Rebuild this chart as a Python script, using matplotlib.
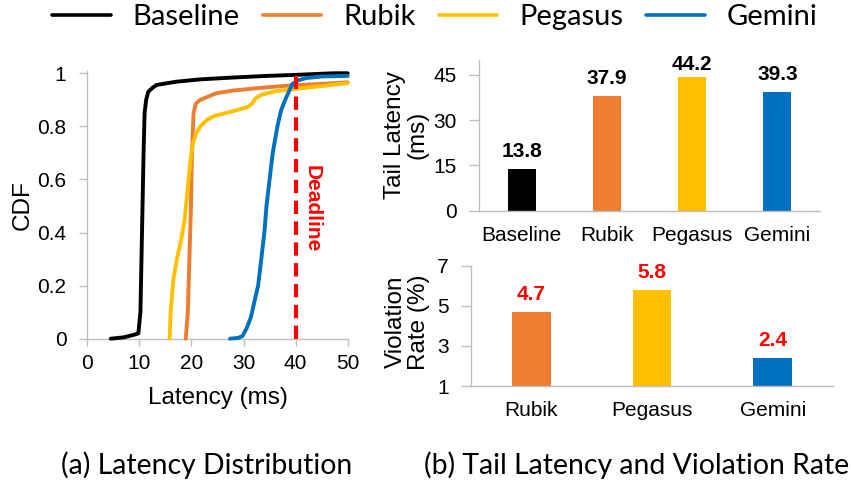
import numpy as np
import matplotlib
matplotlib.use("Agg")
import matplotlib.pyplot as plt
from matplotlib.lines import Line2D

# ---------------- data ----------------
systems = ["Baseline", "Rubik", "Pegasus", "Gemini"]
colors = ["#000000", "#ED7D31", "#FFC000", "#0070C0"]

# CDF curves (latency ms, cumulative fraction)
base_x = [4.5, 7, 9, 9.8, 10.2, 10.4, 10.6, 10.8, 11.0, 11.3, 11.7, 12.5, 13.3, 17, 21.6, 28, 34.4, 40, 47.2, 50]
base_y = [0, 0.005, 0.015, 0.02, 0.1, 0.3, 0.5, 0.7, 0.85, 0.9, 0.93, 0.945, 0.956, 0.968, 0.977, 0.984, 0.99, 0.994, 1.0, 1.0]

rubik_x = [18.9, 19.3, 19.6, 19.9, 20.1, 20.4, 20.8, 21.7, 24.8, 28, 34.4, 39.5, 45, 50]
rubik_y = [0, 0.1, 0.3, 0.5, 0.7, 0.85, 0.885, 0.9, 0.925, 0.935, 0.947, 0.955, 0.96, 0.966]

peg_x = [15.8, 16.0, 16.5, 17.2, 18.0, 18.7, 19.2, 19.7, 20.1, 20.8, 21.7, 23, 24.5, 28, 30.9, 31.6, 32.3, 33.3, 36, 40, 45, 50]
peg_y = [0, 0.1, 0.22, 0.3, 0.37, 0.45, 0.55, 0.65, 0.72, 0.77, 0.8, 0.825, 0.84, 0.857, 0.874, 0.885, 0.905, 0.918, 0.932, 0.941, 0.952, 0.963]

gem_x = [27.4, 29, 29.8, 30.6, 31.4, 32.2, 32.8, 33.4, 34.0, 34.4, 35.0, 35.6, 36.5, 37.2, 38.0, 38.8, 39.4, 40.3, 42, 45, 50]
gem_y = [0, 0.003, 0.01, 0.04, 0.08, 0.15, 0.2, 0.3, 0.4, 0.5, 0.6, 0.7, 0.8, 0.86, 0.9, 0.935, 0.96, 0.972, 0.982, 0.988, 0.99]

cdf_x = [base_x, rubik_x, peg_x, gem_x]
cdf_y = [base_y, rubik_y, peg_y, gem_y]

deadline = 40

tail_latency = [13.8, 37.9, 44.2, 39.3]

viol_systems = ["Rubik", "Pegasus", "Gemini"]
viol_colors = ["#ED7D31", "#FFC000", "#0070C0"]
viol_rate = [4.7, 5.8, 2.4]

# ---------------- style ----------------
ARIAL = ["Liberation Sans", "DejaVu Sans"]
CALIBRI = ["Lato", "DejaVu Sans"]
plt.rcParams["font.family"] = ARIAL
GRAY = "#BFBFBF"
TICK_FS = 15
LABEL_FS = 17.5

fig = plt.figure(figsize=(8.51, 4.83), dpi=100)
FIG_H_PX = 483


def style_axes(ax):
    for s in ("top", "right"):
        ax.spines[s].set_visible(False)
    for s in ("left", "bottom"):
        ax.spines[s].set_color(GRAY)
        ax.spines[s].set_linewidth(1.0)


# ---------------- (a) CDF ----------------
ax1 = fig.add_axes([0.1026, 0.2988, 0.306, 0.555])
style_axes(ax1)
for xs, ys, c in zip(cdf_x, cdf_y, colors):
    ax1.plot(xs, ys, color=c, lw=2.8, solid_capstyle="round", clip_on=False, zorder=3)
ax1.plot([deadline, deadline], [0, 1.02], color="#FF0000", lw=3.0,
         dashes=(3.2, 1.8), clip_on=False, zorder=4)
ax1.text(deadline + 3.1, 0.49, "Deadline", color="#FF0000", fontsize=15,
         fontweight="bold", rotation=-90, ha="center", va="center")
ax1.set_xlim(0, 50)
ax1.set_ylim(0, 1.01)
ax1.set_xticks([0, 10, 20, 30, 40, 50])
ax1.set_yticks([0, 0.2, 0.4, 0.6, 0.8, 1.0])
ax1.set_yticklabels(["0", "0.2", "0.4", "0.6", "0.8", "1"])
ax1.tick_params(axis="x", direction="out", length=5, width=1, color=GRAY,
                labelsize=TICK_FS, pad=6)
ax1.tick_params(axis="y", direction="out", length=6, width=1, color=GRAY,
                labelsize=TICK_FS, pad=9)
ax1.set_xlabel("Latency (ms)", fontsize=LABEL_FS)
ax1.xaxis.set_label_coords(0.502, -0.223)
ax1.xaxis.label.set_va("center")
ax1.set_ylabel("CDF", fontsize=LABEL_FS)
ax1.yaxis.set_label_coords(-0.247, 0.5)
ax1.yaxis.label.set_va("center")


def bar_labels(ax, xs, vals, color, gap_px=12, top_px=10.5):
    pos = ax.get_position()
    y0, y1 = ax.get_ylim()
    ppu = pos.height * FIG_H_PX / (y1 - y0)
    for x, v in zip(xs, vals):
        yb = min(v + gap_px / ppu, y1 - top_px / ppu)
        ax.text(x, yb, f"{v:.1f}", ha="center", va="baseline", color=color,
                fontsize=15, fontweight="bold")


# ---------------- (b) tail latency ----------------
ax2 = fig.add_axes([0.5629, 0.5638, 0.4007, 0.3128])
style_axes(ax2)
xs2 = np.arange(len(systems))
ax2.bar(xs2, tail_latency, width=0.33, color=colors, zorder=2)
ax2.set_xlim(-0.5, len(systems) - 0.5)
ax2.set_ylim(0, 50)
ax2.set_yticks([0, 15, 30, 45])
ax2.set_xticks(xs2)
ax2.set_xticklabels(systems)
ax2.tick_params(axis="x", length=0, labelsize=TICK_FS, pad=11)
ax2.tick_params(axis="y", direction="out", length=7, width=1, color=GRAY,
                labelsize=TICK_FS, pad=9)
ax2.set_ylabel("Tail Latency\n(ms)", fontsize=LABEL_FS, linespacing=1.05)
ax2.yaxis.set_label_coords(-0.2126, 0.5)
ax2.yaxis.label.set_va("center")
bar_labels(ax2, xs2, tail_latency, "#000000")

# ---------------- (b) violation rate ----------------
ax3 = fig.add_axes([0.5535, 0.2008, 0.4254, 0.2491])
style_axes(ax3)
xs3 = np.arange(len(viol_systems))
ax3.bar(xs3, [v - 1 for v in viol_rate], bottom=1, width=0.32, color=viol_colors, zorder=2)
ax3.set_xlim(-0.5, len(viol_systems) - 0.5)
ax3.set_ylim(1, 7)
ax3.set_yticks([1, 3, 5, 7])
ax3.set_xticks(xs3)
ax3.set_xticklabels(viol_systems)
ax3.tick_params(axis="x", length=0, labelsize=TICK_FS, pad=11)
ax3.tick_params(axis="y", direction="out", length=7, width=1, color=GRAY,
                labelsize=TICK_FS, pad=9)
ax3.set_ylabel("Violation\nRate (%)", fontsize=LABEL_FS, linespacing=1.05)
ax3.yaxis.set_label_coords(-0.175, 0.53)
ax3.yaxis.label.set_va("center")
bar_labels(ax3, xs3, viol_rate, "#FF0000")

# ---------------- legend & captions ----------------
handles = [Line2D([], [], color=c, lw=2.6, solid_capstyle="round") for c in colors]
fig.legend(handles, systems, loc="center", bbox_to_anchor=(0.511, 0.965), ncol=4,
           frameon=False, handlelength=2.0, handletextpad=0.75, columnspacing=0.8,
           prop={"family": CALIBRI, "size": 21})

fig.text(0.243, 0.037, "(a) Latency Distribution", ha="center", va="center",
         family=CALIBRI, fontsize=20.4)
fig.text(0.7485, 0.037, "(b) Tail Latency and Violation Rate", ha="center", va="center",
         family=CALIBRI, fontsize=20.4)

fig.savefig("out.png", dpi=100)
